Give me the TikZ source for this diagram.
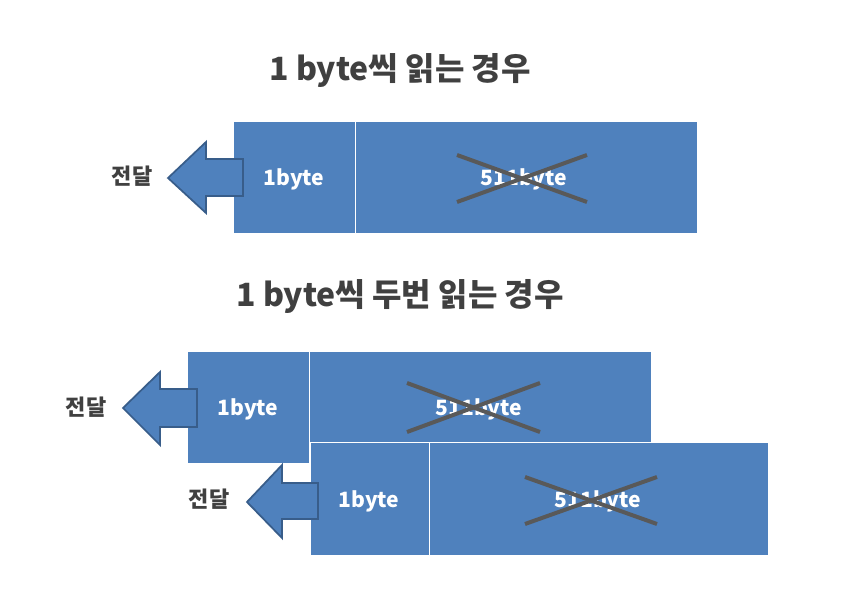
\documentclass[tikz,border=0pt]{standalone}
\usepackage{fontspec}
\newfontfamily\kr{Noto Sans CJK KR}
\definecolor{boxblue}{HTML}{4F81BD}
\definecolor{arrowedge}{HTML}{385D8A}
\definecolor{crossgray}{HTML}{595959}
\definecolor{titlegray}{HTML}{404040}
\tikzset{
  blk/.style={fill=boxblue, draw=white, line width=0.8pt, anchor=north west, inner sep=0pt},
  btxt/.style={text=white, font=\kr\bfseries\fontsize{15.8}{18}\selectfont},
  title/.style={text=titlegray, font=\kr\bfseries\fontsize{24}{28}\selectfont},
  lbl/.style={text=titlegray, font=\kr\bfseries\fontsize{16.5}{19}\selectfont},
  cross/.style={draw=crossgray, line width=3pt},
  larrow/.style={fill=boxblue, draw=arrowedge, line width=1.3pt, line join=miter}
}
\begin{document}
\begin{tikzpicture}[x=0.75pt,y=-0.75pt]
\useasboundingbox (0,0) rectangle (868,602);
\fill[white] (0,0) rectangle (868,602);

% ---- titles
\node[title] (t1) at (400,71) {1 byte씩 읽는 경우};
\node[title] (t2) at (400,297) {1 byte씩 두번 읽는 경우};

% ---- first case
\node[blk, minimum width=122*0.75pt, minimum height=112*0.75pt] (a1) at (233,121) {};
\node[blk, minimum width=342*0.75pt, minimum height=112*0.75pt] (a2) at (355,121) {};
\node[btxt] (a1t) at (294,179) {1byte};
\node[btxt] (a2t) at (524,179) {511byte};
\draw[cross] (457,155) -- (587,202);
\draw[cross] (457,202) -- (587,155);
\draw[larrow] (168,178) -- (206,142) -- (206,159) -- (243,159) -- (243,196) -- (206,196) -- (206,213) -- cycle;
\node[lbl] (l1) at (132,176) {전달};

% ---- second case
\node[blk, minimum width=122*0.75pt, minimum height=112*0.75pt] (b1) at (187,351) {};
\node[blk, minimum width=342*0.75pt, minimum height=112*0.75pt] (b2) at (309,351) {};
\node[blk, minimum width=119*0.75pt, minimum height=113*0.75pt] (c1) at (310,442) {};
\node[blk, minimum width=339*0.75pt, minimum height=113*0.75pt] (c2) at (429,442) {};
\node[btxt] (b1t) at (248,409) {1byte};
\node[btxt] (b2t) at (479,409) {511byte};
\node[btxt] (c1t) at (369,501) {1byte};
\node[btxt] (c2t) at (598,501) {511byte};
\draw[cross] (407,383) -- (540,432);
\draw[cross] (407,432) -- (540,383);
\draw[cross] (525,477) -- (657,524);
\draw[cross] (525,524) -- (657,477);
\draw[larrow] (123,408) -- (160,372) -- (160,389) -- (197,389) -- (197,427) -- (160,427) -- (160,445) -- cycle;
\node[lbl] (l2) at (86,407) {전달};
\draw[larrow] (247,502) -- (282,465) -- (282,483) -- (318,483) -- (318,519) -- (282,519) -- (282,538) -- cycle;
\node[lbl] (l3) at (209,499) {전달};
\end{tikzpicture}
\end{document}
